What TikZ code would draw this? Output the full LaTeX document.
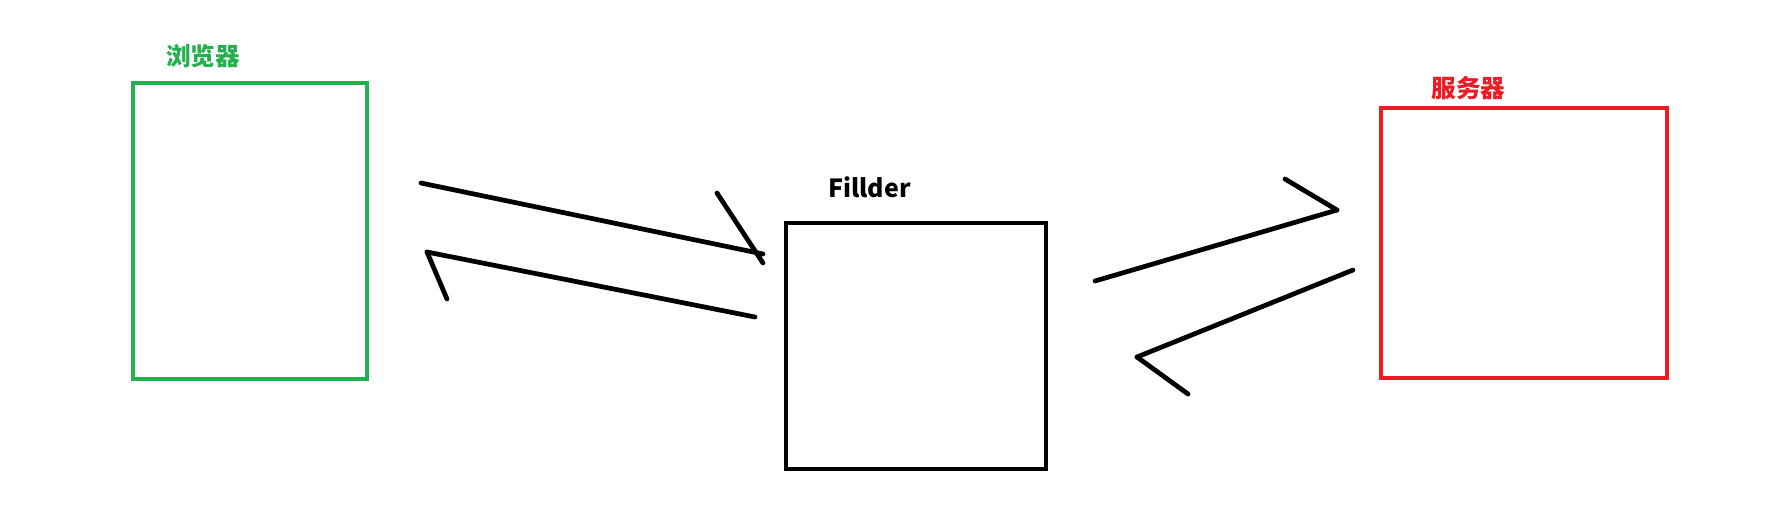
\documentclass[tikz,border=0pt]{standalone}
\RequirePackage{fontspec}
\RequirePackage{tikz}
\RequirePackage{tkz-euclide}
\usetikzlibrary{calc}
\setmainfont{Noto Sans}
\newfontfamily\cjk{Noto Sans CJK SC}
\definecolor{paintgreen}{RGB}{34,177,76}
\definecolor{paintred}{RGB}{237,28,36}

\begin{document}
\begin{tikzpicture}[box/.style={draw,line width=1.4pt,inner sep=0pt},
                    stroke/.style={line width=1.35pt,line cap=round,draw=black},
                    tag/.style={font=\cjk\bfseries\fontsize{7}{8}\selectfont,inner sep=0pt}]
                \fill[white] (0,0) rectangle (17.86,-5.21);
                \useasboundingbox (0,0) rectangle (17.86,-5.21);

                \node[box,draw=paintgreen,minimum width=2.34cm,minimum height=2.96cm] (browser) at (2.50,-2.31) {};
                \node[box,draw=black,minimum width=2.60cm,minimum height=2.46cm] (fillder) at (9.16,-3.46) {};
                \node[box,draw=paintred,minimum width=2.86cm,minimum height=2.70cm] (server) at (15.24,-2.43) {};

                \node[tag,text=paintgreen] (browsertag) at (2.03,-0.565) {浏览器};
                \node[tag,font=\cjk\bfseries\fontsize{7.1}{8}\selectfont] (fillertag) at (8.695,-1.87) {Fillder};
                \node[tag,text=paintred] (servertag) at (14.685,-0.88) {服务器};

                \tkzDefPoint(4.21,-1.83){P1}
                \tkzDefPoint(7.63,-2.54){P2}
                \tkzDefPoint(7.17,-1.93){H1}
                \tkzDefPoint(7.63,-2.63){H2}
                \tkzDrawSegment[stroke](P1,P2)
                \tkzDrawSegment[stroke](H1,H2)

                \tkzDefPoint(7.55,-3.17){Q1}
                \tkzDefPoint(4.27,-2.52){Q2}
                \tkzDefPoint(4.47,-2.99){K1}
                \tkzDrawSegments[stroke](Q1,Q2 Q2,K1)

                \tkzDefPoint(10.95,-2.81){R1}
                \tkzDefPoint(13.37,-2.10){R2}
                \tkzDefPoint(12.85,-1.79){L1}
                \tkzDrawSegments[stroke](R1,R2 L1,R2)

                \tkzDefPoint(13.53,-2.70){S1}
                \tkzDefPoint(11.37,-3.57){S2}
                \tkzDefPoint(11.88,-3.94){M1}
                \tkzDrawSegments[stroke](S1,S2 S2,M1)
            \end{tikzpicture}
\end{document}
